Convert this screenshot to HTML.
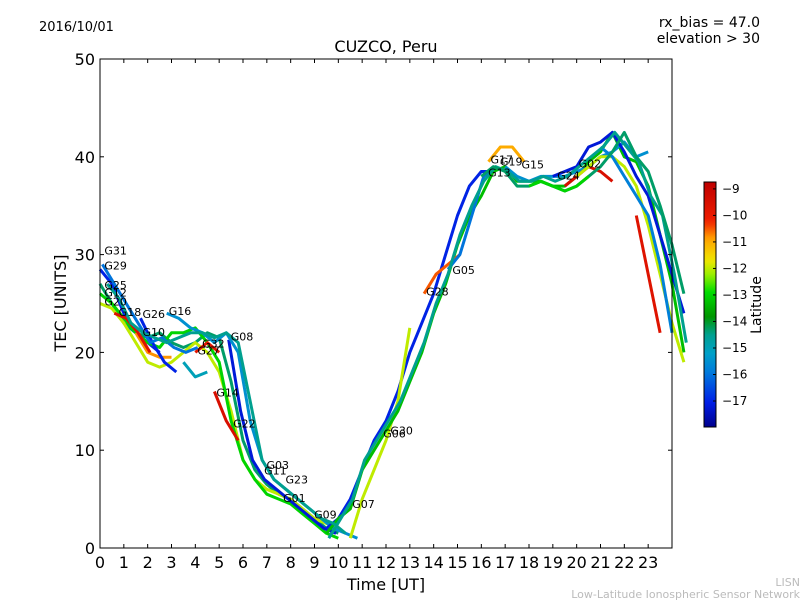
<!DOCTYPE html>
<html><head><meta charset="utf-8"><style>
body{margin:0;background:#fff;}
svg text{font-family:"DejaVu Sans","Liberation Sans",sans-serif;}
</style></head><body>
<svg id="chart" width="800" height="600" xmlns="http://www.w3.org/2000/svg">
<rect width="800" height="600" fill="#fff"/>
<text x="39" y="31" font-size="13">2016/10/01</text>
<text x="760" y="27" font-size="14" text-anchor="end">rx_bias = 47.0</text>
<text x="760" y="43" font-size="14" text-anchor="end">elevation &gt; 30</text>
<text x="386" y="52" font-size="16" text-anchor="middle">CUZCO, Peru</text>
<text x="386" y="590" font-size="16" text-anchor="middle">Time [UT]</text>
<text transform="translate(66,303) rotate(-90)" font-size="16" text-anchor="middle">TEC [UNITS]</text>
<text transform="translate(761,305) rotate(-90)" font-size="14" text-anchor="middle">Latitude</text>
<text x="800" y="586" font-size="11" fill="#bbb" text-anchor="end">LISN</text>
<text x="800" y="598" font-size="11" fill="#bbb" text-anchor="end">Low-Latitude Ionospheric Sensor Network</text>
<g id="plot"></g>
<g id="axes"></g>
<g id="cbar"></g>
</svg>
<script>
const xTicks=[0,1,2,3,4,5,6,7,8,9,10,11,12,13,14,15,16,17,18,19,20,21,22,23];
const yTicks=[0,10,20,30,40,50];
const cbTicks=[-9,-10,-11,-12,-13,-14,-15,-16,-17];
const satNames=["G31","G29","G25","G12","G20","G18","G26","G10","G16","G32","G27","G08","G14","G22","G03","G11","G23","G01","G09","G07","G06","G30","G28","G05","G17","G19","G13","G15","G24","G02"];
const labelT=[0.1,0.1,0.1,0.1,0.1,0.7,1.7,1.7,2.8,4.2,4.0,5.4,4.8,5.5,6.9,6.8,7.7,7.6,8.9,10.5,11.8,12.1,13.6,14.7,16.3,16.7,16.2,17.6,19.1,20.0];
const labelV=[30,28.5,26.5,25.7,24.8,23.7,23.5,21.7,23.8,20.5,19.8,21.2,15.5,12.3,8.1,7.5,6.6,4.7,3.0,4.1,11.3,11.6,25.8,28.0,39.3,39.1,38.0,38.8,37.7,38.9];
// traces: start time, step 0.5 h, TEC values, latitude
const trStart=[0,0,0,0,1.5,0.6,1.7,4.0,5.4,4.8,2.8,9.5,10.5,9.5,13.6,14.6,16.3,17,19,19.5,20,22.5,21,3.5,0.1,0.3,9.6,16,18];
const trLat=[-14.3,-12,-17,-13,-10.8,-9.6,-17,-9.8,-17.2,-9.5,-15.5,-17,-12,-13.3,-10.5,-16,-11,-15.5,-17.2,-9.5,-12,-9.7,-15.8,-15,-16,-14.5,-14.5,-14.3,-13];
const trVals=[
[27,25,23,22,21.5,22,21,20.5,21,22,21.5,17,11,8,6.5,5.5,5,4,3,2,1.5],
[25,24.5,23,21,19,18.5,19,20,21,20,18,14,9,7,6,5.5,5,4,3,2.5,2],
[28.5,27,24,22,21,20],
[26,25,23.5,22,21,20.5,22,22,22.5,21,19,13,9,7,5.5,5,4.5,3.5,2.5,1.5,1],
[22,20,19.5,19.5],
[24,23.5,22,20],
[23.5,21,19,18],
[20,21,20],
[21.3,14,9,7,6,5,4,3,2,1.5],
[16,13,11],
[24,23.5,22.5,22,21,22,20,13,9,7,6,5,4,3,2,1.5,1],
[2,3,5,8,11,13,16,20,23,26,30,34,37,38.5,38.5],
[1,5,8,11,15,22.5],
[1.5,3,4,8,10,12,14,17,20,24,27,31,34,36,38.5,39,37.5,37.5,37.5,37,37,38,39.5,40.5,42.5,40,39.5,37,32,27,20],
[26,28,29,30],
[28.5,30,34,38,39],
[39.5,41,41,39.5],
[39,38,37.5,38,38,38,38.5,39,40,40.5,41.5,40,40.5],
[38,38.5,39,41,41.5,42.5,40.5,38,36,32,28,24],
[37,38,39,38.5,37.5],
[38,39,40,40,39,37,33,28,23,19],
[34,28,22],
[41,40,38,36,34,29,22],
[19,17.5,18],
[29,27,25,23,21,21.5,20.5,20,20.5],
[27,25.5,23,22,21.5,21,21.5,22,22,21.5,22,21,15,9,7,6,5,4,3,2.5,1.5],
[1,3,5,9,11,13,15,18,21,25,28,32,35,37.5,39,38.5,37.5,37.5,38,37.5,38,39,40,41,42.5,41,39.5,36,34,28,21],
[38,39,38.5,37,37,37.5,37,36.5,37,38,39,40.5,42.5,40,38.5,35,31,26],
[37,37.5,37,36.5,37,38]
];
const X0=100,X1=672,Y0=548,Y1=59;
const xs=t=>X0+t*(X1-X0)/24;
const ys=v=>Y0-v*(Y0-Y1)/50;
const LMIN=-17.98,LMAX=-8.74;
const CM=[[0,0,0,140],[0.1,0,30,230],[0.22,0,120,220],[0.3,0,160,200],[0.38,0,160,140],[0.45,0,150,0],[0.55,0,220,0],[0.62,150,240,0],[0.68,240,230,0],[0.77,255,160,0],[0.84,240,30,0],[1,190,0,0]];
function jet(f){f=Math.max(0,Math.min(1,f));
 for(let i=1;i<CM.length;i++){if(f<=CM[i][0]){const a=CM[i-1],b=CM[i],u=(f-a[0])/(b[0]-a[0]);
  return `rgb(${[1,2,3].map(k=>Math.round(a[k]+(b[k]-a[k])*u)).join(',')})`;}}
 return 'rgb(190,0,0)';}
const latColor=l=>jet((l-LMIN)/(LMAX-LMIN));
const NS="http://www.w3.org/2000/svg";
function mk(tag,attrs,parent){const e=document.createElementNS(NS,tag);for(const k in attrs)e.setAttribute(k,attrs[k]);parent.appendChild(e);return e;}
const plot=document.getElementById('plot');
for(let i=0;i<trVals.length;i++){
 const pts=trVals[i].map((v,j)=>xs(trStart[i]+j*0.5).toFixed(1)+','+ys(v).toFixed(1)).join(' ');
 const p=mk('polyline',{points:pts,fill:'none',stroke:latColor(trLat[i]),'stroke-width':3,'stroke-linejoin':'round'},plot);
 
 
}
for(let i=0;i<satNames.length;i++){
 const t=mk('text',{x:xs(labelT[i])+2,y:ys(labelV[i]),'font-size':11},plot);
 t.textContent=satNames[i];
 
 
}
const axes=document.getElementById('axes');
const fr=mk('rect',{x:X0,y:Y1,width:X1-X0,height:Y0-Y1,fill:'none',stroke:'#000','stroke-width':1},axes);


xTicks.forEach(t=>{const x=xs(t);
 mk('line',{x1:x,x2:x,y1:Y0,y2:Y0-4,stroke:'#000'},axes);
 mk('line',{x1:x,x2:x,y1:Y1,y2:Y1+4,stroke:'#000'},axes);
 const tx=mk('text',{x:x,y:Y0+20,'font-size':16,'text-anchor':'middle'},axes);tx.textContent=t;
 
 });
yTicks.forEach(v=>{const y=ys(v);
 mk('line',{x1:X0,x2:X0+4,y1:y,y2:y,stroke:'#000'},axes);
 mk('line',{x1:X1,x2:X1-4,y1:y,y2:y,stroke:'#000'},axes);
 const tx=mk('text',{x:X0-5,y:y+6,'font-size':16,'text-anchor':'end'},axes);tx.textContent=v;
 
 });
// colorbar
const cb=document.getElementById('cbar');
const CX=704,CW=12,CT=182,CB=427;
const defs=mk('defs',{},cb);
const g=mk('linearGradient',{id:'jetg',x1:0,y1:1,x2:0,y2:0},defs);
for(let i=0;i<=40;i++)mk('stop',{offset:i/40,'stop-color':jet(i/40)},g);
const cr=mk('rect',{x:CX,y:CT,width:CW,height:CB-CT,fill:'url(#jetg)',stroke:'#000'},cb);


const cy=l=>CB-(l-LMIN)/(LMAX-LMIN)*(CB-CT);
cbTicks.forEach(l=>{const y=cy(l);
 mk('line',{x1:CX+CW-3,x2:CX+CW,y1:y,y2:y,stroke:'#000'},cb);
 const tx=mk('text',{x:CX+CW+6,y:y+4,'font-size':12},cb);tx.textContent='\u2212'+(-l);
 
 });
</script>
</body></html>
